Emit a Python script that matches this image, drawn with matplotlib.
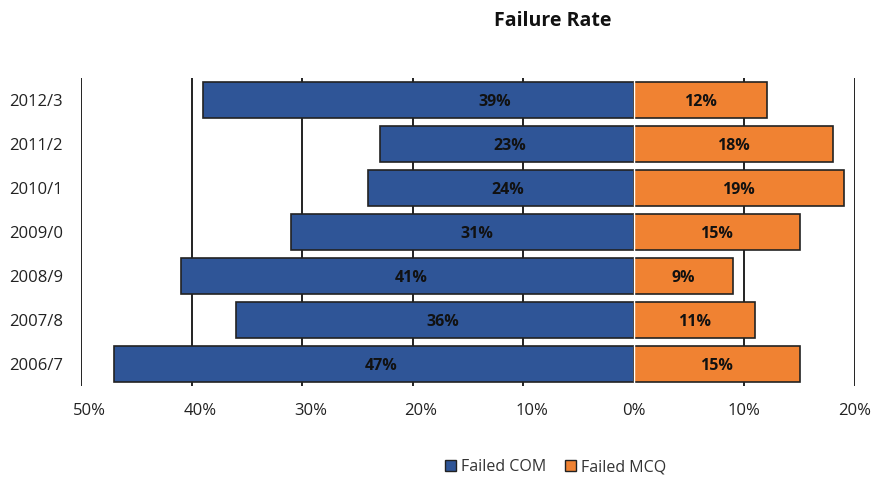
import matplotlib
matplotlib.use("Agg")
import matplotlib.pyplot as plt
from matplotlib.patches import Patch
import numpy as np

# Academic years, listed top to bottom
years = ["2012/3", "2011/2", "2010/1", "2009/0", "2008/9", "2007/8", "2006/7"]
failed_com = [39, 23, 24, 31, 41, 36, 47]   # % failing COM (drawn to the left)
failed_mcq = [12, 18, 19, 15, 9, 11, 15]    # % failing MCQ (drawn to the right)
x_ticks = [-50, -40, -30, -20, -10, 0, 10, 20]
x_tick_labels = ["50%", "40%", "30%", "20%", "10%", "0%", "10%", "20%"]

# Horizontal nudges (percentage points) for the COM value labels
com_label_nudge = [6.9, 0.3, 0.6, 1.3, 0.4, 0.7, 0.6]

BLUE = "#2F5597"
ORANGE = "#F08232"
EDGE = "#222222"

plt.rcParams["font.family"] = ["Open Sans", "DejaVu Sans"]

fig = plt.figure(figsize=(8.72, 4.79), dpi=100)
ax = fig.add_axes([0.0929, 0.194, 0.8876, 0.643])

n = len(years)
ypos = np.arange(n)[::-1]  # first year at the top

ax.set_xlim(-50, 20)
ax.set_ylim(-0.5, n - 0.5)

# Vertical gridlines (none at zero)
for t in x_ticks:
    if t != 0:
        ax.axvline(t, color="#111111", lw=1.3, zorder=1)

h = 0.83
com_vals = -np.array(failed_com, dtype=float)
ax.barh(ypos, com_vals, height=h, color=BLUE, edgecolor=EDGE, linewidth=1.2, zorder=2)
ax.barh(ypos, failed_mcq, height=h, color=ORANGE, edgecolor=EDGE, linewidth=1.2, zorder=2)
ax.axvline(0, color="white", lw=1.0, zorder=3)

# Value labels
for y, v, nudge in zip(ypos, failed_com, com_label_nudge):
    ax.text(-v / 2 + nudge, y - 0.05, f"{v}%", ha="center", va="center",
            fontsize=11.5, fontweight="bold", color="#111111", zorder=4)
for y, v in zip(ypos, failed_mcq):
    ax.text(v / 2, y - 0.05, f"{v}%", ha="center", va="center",
            fontsize=11.5, fontweight="bold", color="#111111", zorder=4)

# Axes styling
for s in ax.spines.values():
    s.set_visible(False)
ax.set_yticks(ypos)
ax.set_yticklabels(years, fontsize=12, color="#222222")
ax.tick_params(axis="y", length=0, pad=13)
ax.set_xticks([])

for t, lab in zip(x_ticks, x_tick_labels):
    dx = 6 if t < 0 else 0
    ax.annotate(lab, xy=(t, 0), xycoords=("data", "axes fraction"),
                xytext=(dx, -18), textcoords="offset points",
                ha="center", va="center", fontsize=12, color="#222222")

fig.text(0.634, 0.957, "Failure Rate", ha="center", va="center",
         fontsize=14, fontweight="bold", color="#111111")

handles = [Patch(facecolor=BLUE, edgecolor=EDGE, label="Failed COM"),
           Patch(facecolor=ORANGE, edgecolor=EDGE, label="Failed MCQ")]
fig.legend(handles=handles, loc="center", bbox_to_anchor=(0.637, 0.025),
           ncol=2, frameon=False, fontsize=11.5, handlelength=0.7, handleheight=0.7,
           handletextpad=0.3, columnspacing=1.2, labelcolor="#333333")

fig.savefig("out.png", dpi=100)
